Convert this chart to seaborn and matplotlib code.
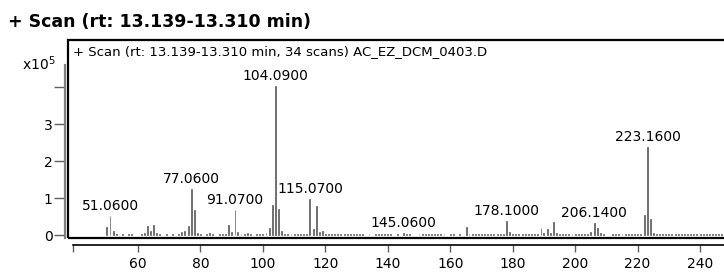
import pandas as pd
import matplotlib.pyplot as plt
import matplotlib.patches as mpatches
import seaborn as sns

# spectrum peaks (m/z, intensity in x10^5 counts)
mz = [50.05, 51.06, 52.05, 53, 55, 57, 58, 61, 62, 63.05, 64, 65.05, 66, 67, 69, 71, 73, 74,
      75.05, 76.05, 77.06, 78.07, 79, 80, 82, 83, 84, 86, 87, 88, 89.05, 90, 91.07, 92, 93, 94,
      95, 96, 98, 99, 100, 101, 102.05, 103.08, 104.09, 105.09, 106, 107, 108, 109, 110, 111,
      112, 113, 114, 115.07, 116.07, 117.07, 118, 119, 120, 121, 122, 123, 124, 125, 126, 127,
      128, 129, 130, 131, 132, 134, 136, 137, 138, 139, 140, 141, 143, 145.06, 146, 147, 150,
      151, 152, 153, 154, 155, 156, 157, 158, 160, 161, 163, 165.07, 166, 167, 168, 169, 170,
      171, 172, 173, 174, 175, 176, 177, 178.1, 179, 180, 181, 182, 183, 184, 185, 186, 187,
      188, 189.07, 190, 191.08, 192, 193.09, 194, 195, 196, 197, 198, 199, 200, 201, 202, 203,
      204, 205, 206.14, 207.15, 208, 209, 212, 213, 214, 215, 216, 217, 218, 219, 220, 221,
      222.15, 223.16, 224.16, 225, 226, 227, 228, 229, 230, 231, 232, 233, 234, 235, 236, 237,
      238, 239, 240, 241, 242, 243, 244, 245, 246, 247, 248]
intensity = [0.22, 0.51, 0.10, 0.04, 0.03, 0.03, 0.02, 0.03, 0.06, 0.24, 0.10, 0.26, 0.05, 0.03,
             0.03, 0.02, 0.03, 0.08, 0.12, 0.24, 1.24, 0.68, 0.05, 0.02, 0.04, 0.06, 0.03, 0.03,
             0.04, 0.04, 0.27, 0.08, 0.68, 0.08, 0.04, 0.03, 0.05, 0.03, 0.03, 0.03, 0.03, 0.05,
             0.20, 0.81, 4.03, 0.70, 0.12, 0.04, 0.03, 0.03, 0.03, 0.03, 0.03, 0.03, 0.03, 0.97,
             0.17, 0.78, 0.08, 0.10, 0.03, 0.03, 0.02, 0.03, 0.03, 0.02, 0.03, 0.03, 0.02, 0.03,
             0.03, 0.02, 0.03, 0.02, 0.03, 0.02, 0.02, 0.03, 0.02, 0.03, 0.03, 0.06, 0.03, 0.02,
             0.02, 0.03, 0.03, 0.02, 0.03, 0.02, 0.03, 0.02, 0.02, 0.02, 0.03, 0.03, 0.22, 0.04,
             0.03, 0.03, 0.02, 0.03, 0.03, 0.03, 0.02, 0.03, 0.03, 0.02, 0.03, 0.38, 0.08, 0.03,
             0.03, 0.03, 0.02, 0.03, 0.03, 0.03, 0.02, 0.03, 0.20, 0.06, 0.15, 0.05, 0.36, 0.06,
             0.03, 0.03, 0.03, 0.02, 0.03, 0.03, 0.03, 0.03, 0.03, 0.04, 0.08, 0.33, 0.20, 0.05,
             0.02, 0.03, 0.03, 0.03, 0.03, 0.03, 0.03, 0.03, 0.03, 0.03, 0.03, 0.55, 2.38, 0.43,
             0.05, 0.03, 0.03, 0.03, 0.03, 0.03, 0.03, 0.03, 0.03, 0.03, 0.03, 0.03, 0.03, 0.03,
             0.03, 0.03, 0.03, 0.03, 0.03, 0.03, 0.03, 0.03, 0.03, 0.03]

# labelled peaks
label_mz = [51.06, 77.06, 91.07, 104.09, 115.07, 145.06, 178.1, 206.14, 223.16]
label_text = ['51.0600', '77.0600', '91.0700', '104.0900', '115.0700', '145.0600',
              '178.1000', '206.1400', '223.1600']

x_ticks = [60, 80, 100, 120, 140, 160, 180, 200, 220, 240]
y_ticks = [0, 1, 2, 3, 4]
y_ticklabels = ['0', '1', '2', '3', '']

sns.set_style('white')
plt.rcParams['font.family'] = ['DejaVu Sans']
plt.rcParams['text.color'] = 'black'
plt.rcParams['xtick.labelcolor'] = 'black'
plt.rcParams['ytick.labelcolor'] = 'black'

df = pd.DataFrame({'mz': mz, 'intensity': intensity})

fig = plt.figure(figsize=(7.24, 2.74), dpi=100)
ax = fig.add_axes([68 / 724, 36 / 274, 692 / 724, 198 / 274])

sns.barplot(data=df, x='mz', y='intensity', native_scale=True, width=0.35,
            color='#5a5a5a', edgecolor='#5a5a5a', linewidth=0.5, saturation=1, ax=ax)

ax.set_xlim(37.6, 259.2)
ax.set_ylim(-0.08, 5.27)
ax.set_xlabel('')
ax.set_ylabel('')

# peak labels
lookup = dict(zip(mz, intensity))
for m, t in zip(label_mz, label_text):
    ax.annotate(t, (m, lookup[m]), xytext=(0, 2), textcoords='offset points',
                ha='center', va='bottom', fontsize=10, color='black')

# box around plotting region
ax.add_patch(mpatches.Rectangle((0, 0), 1, 1, transform=ax.transAxes, fill=False,
                                edgecolor='black', linewidth=1.6, clip_on=False, zorder=5))

# offset axes lines
for s in ['top', 'right']:
    ax.spines[s].set_visible(False)
ax.spines['left'].set_position(('outward', 2.2))
ax.spines['left'].set_bounds(-0.08, 4.6)
ax.spines['left'].set_color('#808080')
ax.spines['left'].set_linewidth(1.6)
ax.spines['bottom'].set_position(('outward', 5))
ax.spines['bottom'].set_bounds(39.2, 259)
ax.spines['bottom'].set_color('black')
ax.spines['bottom'].set_linewidth(1.2)

ax.set_xticks([39.2] + x_ticks)
ax.set_xticklabels([''] + [str(v) for v in x_ticks], fontsize=10)
ax.set_yticks(y_ticks)
ax.set_yticklabels(y_ticklabels, fontsize=10)
ax.tick_params(axis='x', direction='out', length=5, width=1, color='#606060', pad=4, bottom=True)
ax.tick_params(axis='y', direction='out', length=8, width=1, color='#606060', pad=1, left=True)

ax.text(5 / 692, 1 - 5 / 198, '+ Scan (rt: 13.139-13.310 min, 34 scans) AC_EZ_DCM_0403.D',
        transform=ax.transAxes, ha='left', va='top', fontsize=9.5, color='black')

fig.text(8 / 724, 1 - 22 / 274, '+ Scan (rt: 13.139-13.310 min)', ha='left', va='center',
         fontsize=12.5, fontweight='bold', color='black')
fig.text(22 / 724, 1 - 64 / 274, 'x10$^{5}$', ha='left', va='center', fontsize=10, color='black')

plt.savefig('out.png', dpi=100)
